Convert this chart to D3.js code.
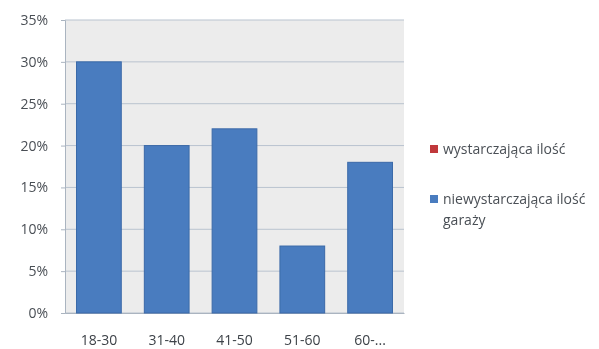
<!DOCTYPE html>
<html>
<head>
<meta charset="utf-8">
<script src="https://cdn.jsdelivr.net/npm/d3@7"></script>
<style>
  html, body { margin: 0; padding: 0; background: #fff; }
  svg { display: block; }
  text { font-family: "Open Sans", "DejaVu Sans", sans-serif; }
</style>
</head>
<body>
<script>
// Age groups and share of respondents who said there is not enough garages
const categories = ["18-30", "31-40", "41-50", "51-60", "60-..."];
const insufficientValues = [30, 20, 22, 8, 18];
const sufficientValues = [0, 0, 0, 0, 0];
const yTicks = [0, 5, 10, 15, 20, 25, 30, 35];
const legendLabels = [["wystarczająca ilość"], ["niewystarczająca ilość", "garaży"]];
const legendColors = ["#c0393b", "#4a7cbf"];

const width = 599, height = 349;
const plot = { left: 65, right: 404, top: 20, bottom: 313 };

const svg = d3.select("body").append("svg")
  .attr("width", width).attr("height", height);

// slight softening of the whole drawing
svg.append("defs").append("filter")
  .attr("id", "soft")
  .append("feGaussianBlur").attr("stdDeviation", 0.6);

const root = svg.append("g").attr("filter", "url(#soft)");

const x = d3.scaleBand()
  .domain(categories)
  .range([plot.left, plot.right])
  .paddingInner(0.34)
  .paddingOuter(0.17);

const y = d3.scaleLinear()
  .domain([0, 35])
  .range([plot.bottom, plot.top]);

// plot area background
root.append("rect")
  .attr("x", plot.left).attr("y", plot.top)
  .attr("width", plot.right - plot.left)
  .attr("height", plot.bottom - plot.top)
  .attr("fill", "#ececec");

// horizontal gridlines
root.append("g")
  .selectAll("line")
  .data(yTicks)
  .join("line")
  .attr("x1", plot.left).attr("x2", plot.right)
  .attr("y1", d => y(d)).attr("y2", d => y(d))
  .attr("stroke", "#b9c3cf")
  .attr("stroke-width", 1);

// y axis
const yAxis = root.append("g")
  .attr("transform", `translate(${plot.left},0)`)
  .call(d3.axisLeft(y).tickValues(yTicks).tickFormat(d => d + "%").tickSize(4).tickPadding(13));
yAxis.select(".domain").attr("stroke", "#aab4c0");
yAxis.selectAll(".tick line").attr("stroke", "#aab4c0");
yAxis.selectAll("text").attr("fill", "#4a4f55").attr("font-size", 14);

// x axis
const xAxis = root.append("g")
  .attr("transform", `translate(0,${plot.bottom})`)
  .call(d3.axisBottom(x).tickSize(0).tickPadding(22));
xAxis.select(".domain").attr("stroke", "#aab4c0");
xAxis.selectAll("text").attr("fill", "#3d4248").attr("font-size", 14);

// bars
root.append("g")
  .selectAll("rect")
  .data(insufficientValues)
  .join("rect")
  .attr("x", (d, i) => x(categories[i]))
  .attr("width", x.bandwidth())
  .attr("y", d => y(d))
  .attr("height", d => y(0) - y(d))
  .attr("fill", "#4a7cbf")
  .attr("stroke", "#3a69a8")
  .attr("stroke-width", 1);

// legend
const legend = root.append("g");
const legendY = [149, 199];
legendLabels.forEach((lines, i) => {
  const g = legend.append("g").attr("transform", `translate(430,${legendY[i]})`);
  g.append("rect")
    .attr("x", 0).attr("y", -4)
    .attr("width", 8).attr("height", 8)
    .attr("fill", legendColors[i]);
  lines.forEach((t, j) => {
    g.append("text")
      .attr("x", 13).attr("y", 5 + j * 21)
      .attr("font-size", 14)
      .attr("fill", "#4a4f55")
      .text(t);
  });
});
</script>
</body>
</html>
